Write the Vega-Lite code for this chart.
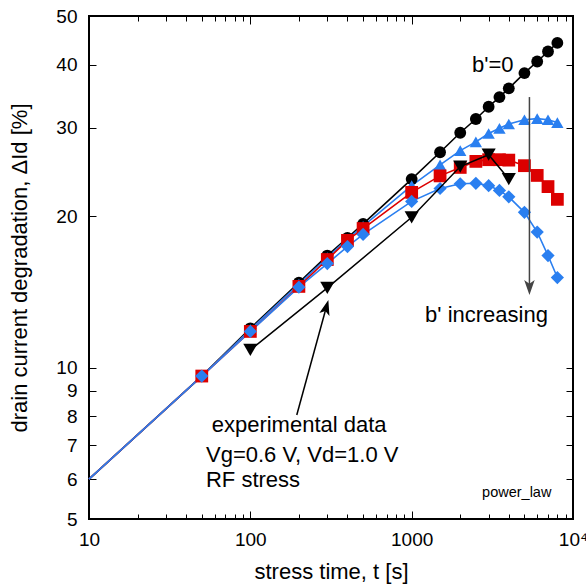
{
  "$schema": "https://vega.github.io/schema/vega-lite/v6.json",
  "width": 484,
  "height": 503,
  "autosize": {"type": "none"},
  "padding": {"left": 89, "top": 16, "right": 13, "bottom": 69},
  "background": "white",
  "config": {
    "font": "Liberation Sans",
    "view": {"stroke": "black", "strokeWidth": 2},
    "axis": {
      "domain": false, "grid": false, "tickColor": "black", "tickWidth": 1,
      "labelColor": "black", "titleColor": "black",
      "labelFont": "Liberation Sans", "titleFont": "Liberation Sans",
      "labelFontSize": 19, "titleFontSize": 22, "titleFontWeight": "normal"
    }
  },
  "datasets": {
    "curves": [
      {"s": "b0", "t": 10, "v": 6.0}, {"s": "b0", "t": 50, "v": 9.62}, {"s": "b0", "t": 100, "v": 11.97}, {"s": "b0", "t": 200, "v": 14.75}, {"s": "b0", "t": 300, "v": 16.7}, {"s": "b0", "t": 400, "v": 18.1}, {"s": "b0", "t": 500, "v": 19.3}, {"s": "b0", "t": 1000, "v": 23.7}, {"s": "b0", "t": 1500, "v": 26.8}, {"s": "b0", "t": 2000, "v": 29.3}, {"s": "b0", "t": 2500, "v": 31.2}, {"s": "b0", "t": 3000, "v": 33.0}, {"s": "b0", "t": 3500, "v": 34.5}, {"s": "b0", "t": 4000, "v": 35.9}, {"s": "b0", "t": 5000, "v": 38.5}, {"s": "b0", "t": 6000, "v": 40.6}, {"s": "b0", "t": 7000, "v": 42.5}, {"s": "b0", "t": 8000, "v": 44.2},
      {"s": "tri", "t": 10, "v": 6.0}, {"s": "tri", "t": 50, "v": 9.62}, {"s": "tri", "t": 100, "v": 11.9}, {"s": "tri", "t": 200, "v": 14.65}, {"s": "tri", "t": 300, "v": 16.55}, {"s": "tri", "t": 400, "v": 18.0}, {"s": "tri", "t": 500, "v": 19.1}, {"s": "tri", "t": 1000, "v": 23.0}, {"s": "tri", "t": 1500, "v": 25.3}, {"s": "tri", "t": 2000, "v": 27.0}, {"s": "tri", "t": 2500, "v": 28.1}, {"s": "tri", "t": 3000, "v": 29.2}, {"s": "tri", "t": 3500, "v": 29.9}, {"s": "tri", "t": 4000, "v": 30.5}, {"s": "tri", "t": 5000, "v": 31.1}, {"s": "tri", "t": 6000, "v": 31.25}, {"s": "tri", "t": 7000, "v": 31.1}, {"s": "tri", "t": 8000, "v": 30.7},
      {"s": "sq", "t": 10, "v": 6.0}, {"s": "sq", "t": 50, "v": 9.62}, {"s": "sq", "t": 100, "v": 11.8}, {"s": "sq", "t": 200, "v": 14.5}, {"s": "sq", "t": 300, "v": 16.4}, {"s": "sq", "t": 400, "v": 17.9}, {"s": "sq", "t": 500, "v": 18.9}, {"s": "sq", "t": 1000, "v": 22.3}, {"s": "sq", "t": 1500, "v": 24.05}, {"s": "sq", "t": 2000, "v": 25.0}, {"s": "sq", "t": 2500, "v": 25.7}, {"s": "sq", "t": 3000, "v": 25.9}, {"s": "sq", "t": 3500, "v": 25.9}, {"s": "sq", "t": 4000, "v": 25.85}, {"s": "sq", "t": 5000, "v": 25.2}, {"s": "sq", "t": 6000, "v": 24.1}, {"s": "sq", "t": 7000, "v": 22.9}, {"s": "sq", "t": 8000, "v": 21.6},
      {"s": "dia", "t": 10, "v": 6.0}, {"s": "dia", "t": 50, "v": 9.62}, {"s": "dia", "t": 100, "v": 11.8}, {"s": "dia", "t": 200, "v": 14.45}, {"s": "dia", "t": 300, "v": 16.1}, {"s": "dia", "t": 400, "v": 17.4}, {"s": "dia", "t": 500, "v": 18.4}, {"s": "dia", "t": 1000, "v": 21.4}, {"s": "dia", "t": 1500, "v": 22.7}, {"s": "dia", "t": 2000, "v": 23.2}, {"s": "dia", "t": 2500, "v": 23.25}, {"s": "dia", "t": 3000, "v": 23.0}, {"s": "dia", "t": 3500, "v": 22.5}, {"s": "dia", "t": 4000, "v": 21.85}, {"s": "dia", "t": 5000, "v": 20.35}, {"s": "dia", "t": 6000, "v": 18.6}, {"s": "dia", "t": 7000, "v": 16.7}, {"s": "dia", "t": 8000, "v": 15.1}
    ],
    "exp": [
      {"t": 100, "v": 10.84}, {"t": 300, "v": 14.4}, {"t": 1000, "v": 19.9}, {"t": 2000, "v": 25.1}, {"t": 3000, "v": 26.5}, {"t": 4000, "v": 23.7}
    ],
    "notes": [
      {"t": 2368, "v": 38.74, "label": "b'=0"},
      {"t": 1211, "v": 12.33, "label": "b' increasing"},
      {"t": 57.6, "v": 7.46, "label": "experimental data"},
      {"t": 53.1, "v": 6.5, "label": "Vg=0.6 V, Vd=1.0 V"},
      {"t": 53.1, "v": 5.8, "label": "RF stress"}
    ]
  },
  "resolve": {"axis": {"x": "independent", "y": "independent"}},
  "layer": [
    {
      "data": {"name": "curves"},
      "mark": {"type": "line", "strokeWidth": 1.6},
      "encoding": {
        "x": {"field": "t", "type": "quantitative",
          "scale": {"type": "log", "domain": [10, 10000], "nice": false},
          "axis": {"orient": "bottom", "values": [10, 100, 1000, 10000], "format": "d",
            "labelExpr": "datum.value >= 10000 ? '10⁴' : datum.label",
            "tickSize": -8, "labelPadding": 19, "labelFlush": false, "labelOverlap": false,
            "title": "stress time, t [s]", "titlePadding": 12}},
        "y": {"field": "v", "type": "quantitative",
          "scale": {"type": "log", "domain": [5, 50], "nice": false},
          "axis": {"orient": "left", "values": [5, 6, 7, 8, 9, 10, 20, 30, 40, 50], "format": "d",
            "tickSize": -7, "labelPadding": 19, "labelOverlap": false, "labelFlush": false,
            "title": "drain current degradation, ΔId [%]", "titlePadding": 24}},
        "color": {"field": "s", "type": "nominal", "legend": null,
          "scale": {"domain": ["b0", "tri", "sq", "dia"], "range": ["#000000", "#2a7ff0", "#dc0000", "#2a7ff0"]}}
      }
    },
    {
      "data": {"name": "curves"},
      "transform": [{"filter": "datum.t >= 50"}],
      "mark": {"type": "point", "filled": true, "opacity": 1, "strokeWidth": 0},
      "encoding": {
        "x": {"field": "t", "type": "quantitative",
          "scale": {"type": "log", "domain": [10, 10000], "nice": false},
          "axis": {"orient": "top", "values": [10, 100, 1000, 10000], "labels": false, "tickSize": -8, "title": null}},
        "y": {"field": "v", "type": "quantitative",
          "scale": {"type": "log", "domain": [5, 50], "nice": false},
          "axis": {"orient": "right", "values": [5, 6, 7, 8, 9, 10, 20, 30, 40, 50], "labels": false, "tickSize": -7, "title": null}},
        "color": {"field": "s", "type": "nominal", "legend": null,
          "scale": {"domain": ["b0", "tri", "sq", "dia"], "range": ["#000000", "#2a7ff0", "#dc0000", "#2a7ff0"]}},
        "shape": {"field": "s", "type": "nominal", "legend": null,
          "scale": {"domain": ["b0", "tri", "sq", "dia"], "range": ["circle", "triangle-up", "square", "diamond"]}},
        "size": {"field": "s", "type": "nominal", "legend": null,
          "scale": {"domain": ["b0", "tri", "sq", "dia"], "range": [140, 175, 140, 165]}}
      }
    },
    {
      "data": {"name": "exp"},
      "mark": {"type": "line", "color": "black", "strokeWidth": 1.5},
      "encoding": {
        "x": {"field": "t", "type": "quantitative",
          "scale": {"type": "log", "domain": [10, 10000], "nice": false},
          "axis": {"orient": "bottom", "values": [20, 30, 40, 50, 60, 70, 80, 90, 200, 300, 400, 500, 600, 700, 800, 900, 2000, 3000, 4000, 5000, 6000, 7000, 8000, 9000], "labels": false, "tickSize": -5, "title": null}},
        "y": {"field": "v", "type": "quantitative",
          "scale": {"type": "log", "domain": [5, 50], "nice": false}, "axis": null}
      }
    },
    {
      "data": {"name": "exp"},
      "mark": {"type": "point", "shape": "triangle-down", "filled": true, "color": "black", "opacity": 1, "size": 200, "strokeWidth": 0},
      "encoding": {
        "x": {"field": "t", "type": "quantitative",
          "scale": {"type": "log", "domain": [10, 10000], "nice": false},
          "axis": {"orient": "top", "values": [20, 30, 40, 50, 60, 70, 80, 90, 200, 300, 400, 500, 600, 700, 800, 900, 2000, 3000, 4000, 5000, 6000, 7000, 8000, 9000], "labels": false, "tickSize": -5, "title": null}},
        "y": {"field": "v", "type": "quantitative",
          "scale": {"type": "log", "domain": [5, 50], "nice": false}, "axis": null}
      }
    },
    {
      "data": {"values": [{"t": 5370, "v": 34.5, "v2": 14.6}]},
      "mark": {"type": "rule", "color": "#444444", "strokeWidth": 1.5},
      "encoding": {
        "x": {"field": "t", "type": "quantitative", "scale": {"type": "log", "domain": [10, 10000], "nice": false}, "axis": null},
        "y": {"field": "v", "type": "quantitative", "scale": {"type": "log", "domain": [5, 50], "nice": false}, "axis": null},
        "y2": {"field": "v2"}
      }
    },
    {
      "data": {"values": [{"t": 5370, "v": 14.42}]},
      "mark": {"type": "point", "shape": "M0,1 L-0.7,-1 L0,-0.5 L0.7,-1 Z", "filled": true, "color": "#444444", "opacity": 1, "size": 225, "strokeWidth": 0},
      "encoding": {
        "x": {"field": "t", "type": "quantitative", "scale": {"type": "log", "domain": [10, 10000], "nice": false}, "axis": null},
        "y": {"field": "v", "type": "quantitative", "scale": {"type": "log", "domain": [5, 50], "nice": false}, "axis": null}
      }
    },
    {
      "data": {"values": [{"t": 194, "v": 8.05, "t2": 298, "v2": 13.3}]},
      "mark": {"type": "rule", "color": "black", "strokeWidth": 1.5},
      "encoding": {
        "x": {"field": "t", "type": "quantitative", "scale": {"type": "log", "domain": [10, 10000], "nice": false}, "axis": null},
        "y": {"field": "v", "type": "quantitative", "scale": {"type": "log", "domain": [5, 50], "nice": false}, "axis": null},
        "x2": {"field": "t2"},
        "y2": {"field": "v2"}
      }
    },
    {
      "data": {"values": [{"t": 296, "v": 13.18}]},
      "mark": {"type": "point", "shape": "M0,-1 L-0.7,1 L0,0.5 L0.7,1 Z", "angle": 15.4, "filled": true, "color": "black", "opacity": 1, "size": 225, "strokeWidth": 0},
      "encoding": {
        "x": {"field": "t", "type": "quantitative", "scale": {"type": "log", "domain": [10, 10000], "nice": false}, "axis": null},
        "y": {"field": "v", "type": "quantitative", "scale": {"type": "log", "domain": [5, 50], "nice": false}, "axis": null}
      }
    },
    {
      "data": {"name": "notes"},
      "mark": {"type": "text", "align": "left", "baseline": "alphabetic", "fontSize": 22, "font": "Liberation Sans", "color": "black"},
      "encoding": {
        "x": {"field": "t", "type": "quantitative", "scale": {"type": "log", "domain": [10, 10000], "nice": false}, "axis": null},
        "y": {"field": "v", "type": "quantitative", "scale": {"type": "log", "domain": [5, 50], "nice": false}, "axis": null},
        "text": {"field": "label"}
      }
    },
    {
      "data": {"values": [{"t": 2732, "v": 5.52, "label": "power_law"}]},
      "mark": {"type": "text", "align": "left", "baseline": "alphabetic", "fontSize": 14.5, "font": "Liberation Sans", "color": "black"},
      "encoding": {
        "x": {"field": "t", "type": "quantitative", "scale": {"type": "log", "domain": [10, 10000], "nice": false}, "axis": null},
        "y": {"field": "v", "type": "quantitative", "scale": {"type": "log", "domain": [5, 50], "nice": false}, "axis": null},
        "text": {"field": "label"}
      }
    }
  ]
}
